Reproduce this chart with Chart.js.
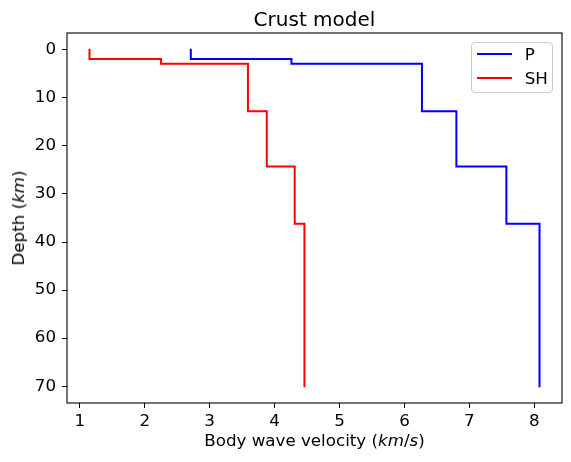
<!DOCTYPE html>
<html>
<head>
<meta charset="utf-8">
<script src="https://cdn.jsdelivr.net/npm/chart.js@4.4.0/dist/chart.umd.min.js"></script>
<style>
  html, body { margin: 0; padding: 0; background: #fff; }
  #wrap { position: relative; width: 571px; height: 462px; font-family: "DejaVu Sans", sans-serif; color: #000; }
  #c { position: absolute; left: 0; top: 0; }
  .txt { position: absolute; line-height: 1; white-space: nowrap; }
  #title { font-size: 20px; top: 8.6px; left: 314.5px; transform: translateX(-50%); }
  #xlabel { font-size: 16.7px; top: 432.4px; left: 314.5px; transform: translateX(-50%); }
  #ylabel { font-size: 16.7px; left: 10px; top: 218px; transform-origin: 0 0; transform: rotate(-90deg) translateX(-50%); }
  #legend { position: absolute; left: 470.7px; top: 41.7px; width: 80.6px; height: 49px; border: 1px solid #cccccc; border-radius: 4px; background: rgba(255,255,255,0.8); }
  .lg-line { position: absolute; left: 5px; width: 35px; height: 2px; }
  .lg-text { position: absolute; left: 53px; font-size: 16.7px; line-height: 1; }
</style>
</head>
<body>
<div id="wrap">
  <canvas id="c" width="571" height="462"></canvas>
  <div id="title" class="txt">Crust model</div>
  <div id="xlabel" class="txt">Body wave velocity (<i>km</i>/<i>s</i>)</div>
  <div id="ylabel" class="txt">Depth (<i>km</i>)</div>
  <div id="legend"></div>
</div>
<script>
// layer boundaries (km) and velocities per layer (km/s)
const depthBounds = [0, 1.9, 2.9, 12.8, 24.3, 36.2, 70];
const pVelocity = [2.71, 4.26, 6.27, 6.80, 7.57, 8.08];
const shVelocity = [1.15, 2.25, 3.59, 3.88, 4.31, 4.46];
const velocityTicks = [1, 2, 3, 4, 5, 6, 7, 8];
const depthTicks = [0, 10, 20, 30, 40, 50, 60, 70];

// turn layer velocities into a staircase profile
function profile(vel) {
  const pts = [];
  for (let i = 0; i < vel.length; i++) {
    pts.push({ x: vel[i], y: depthBounds[i] });
    pts.push({ x: vel[i], y: depthBounds[i + 1] });
  }
  return pts;
}

// 5% margins like matplotlib autoscale
const allV = pVelocity.concat(shVelocity);
const vMin = Math.min(...allV), vMax = Math.max(...allV);
const vPad = (vMax - vMin) * 0.05;
const dMin = depthBounds[0], dMax = depthBounds[depthBounds.length - 1];
const dPad = (dMax - dMin) * 0.05;

const datasets = [
  { label: 'P', data: profile(pVelocity), borderColor: '#0000ff' },
  { label: 'SH', data: profile(shVelocity), borderColor: '#ff0000' }
].map(d => Object.assign(d, {
  showLine: true, pointRadius: 0, borderWidth: 2, fill: false,
  borderJoinStyle: 'miter', borderCapStyle: 'square', tension: 0
}));

const tickFont = { family: 'DejaVu Sans', size: 16.7 };

const frame = {
  id: 'frame',
  afterDraw(chart) {
    const { ctx, chartArea: a } = chart;
    ctx.save();
    ctx.strokeStyle = '#000';
    ctx.lineWidth = 1.1;
    ctx.strokeRect(a.left, a.top, a.right - a.left, a.bottom - a.top);
    ctx.restore();
  }
};

new Chart(document.getElementById('c'), {
  type: 'scatter',
  data: { datasets },
  options: {
    responsive: false,
    animation: false,
    layout: { padding: { left: 0, right: 9, top: 33, bottom: 0 } },
    plugins: { legend: { display: false }, tooltip: { enabled: false }, title: { display: false } },
    scales: {
      x: {
        type: 'linear',
        min: vMin - vPad,
        max: vMax + vPad,
        afterBuildTicks: s => { s.ticks = velocityTicks.map(v => ({ value: v })); },
        afterFit: s => { s.height = 59; },
        ticks: { font: tickFont, color: '#000', padding: 4, maxRotation: 0 },
        grid: { drawOnChartArea: false, drawTicks: true, tickLength: 5, tickColor: '#000', tickWidth: 1 },
        border: { display: false }
      },
      y: {
        type: 'linear',
        reverse: true,
        min: dMin - dPad,
        max: dMax + dPad,
        afterBuildTicks: s => { s.ticks = depthTicks.map(v => ({ value: v })); },
        afterFit: s => { s.width = 67; },
        ticks: { font: tickFont, color: '#000', padding: 6 },
        grid: { drawOnChartArea: false, drawTicks: true, tickLength: 5, tickColor: '#000', tickWidth: 1 },
        border: { display: false }
      }
    }
  },
  plugins: [frame]
});

// legend drawn from the dataset labels and colours
const legend = document.getElementById('legend');
const rowY = [11, 35.3];
datasets.forEach((d, i) => {
  const line = document.createElement('div');
  line.className = 'lg-line';
  line.style.top = (rowY[i] - 1) + 'px';
  line.style.background = d.borderColor;
  legend.appendChild(line);
  const t = document.createElement('div');
  t.className = 'lg-text';
  t.style.top = (rowY[i] - 8) + 'px';
  t.textContent = d.label;
  legend.appendChild(t);
});
</script>
</body>
</html>
